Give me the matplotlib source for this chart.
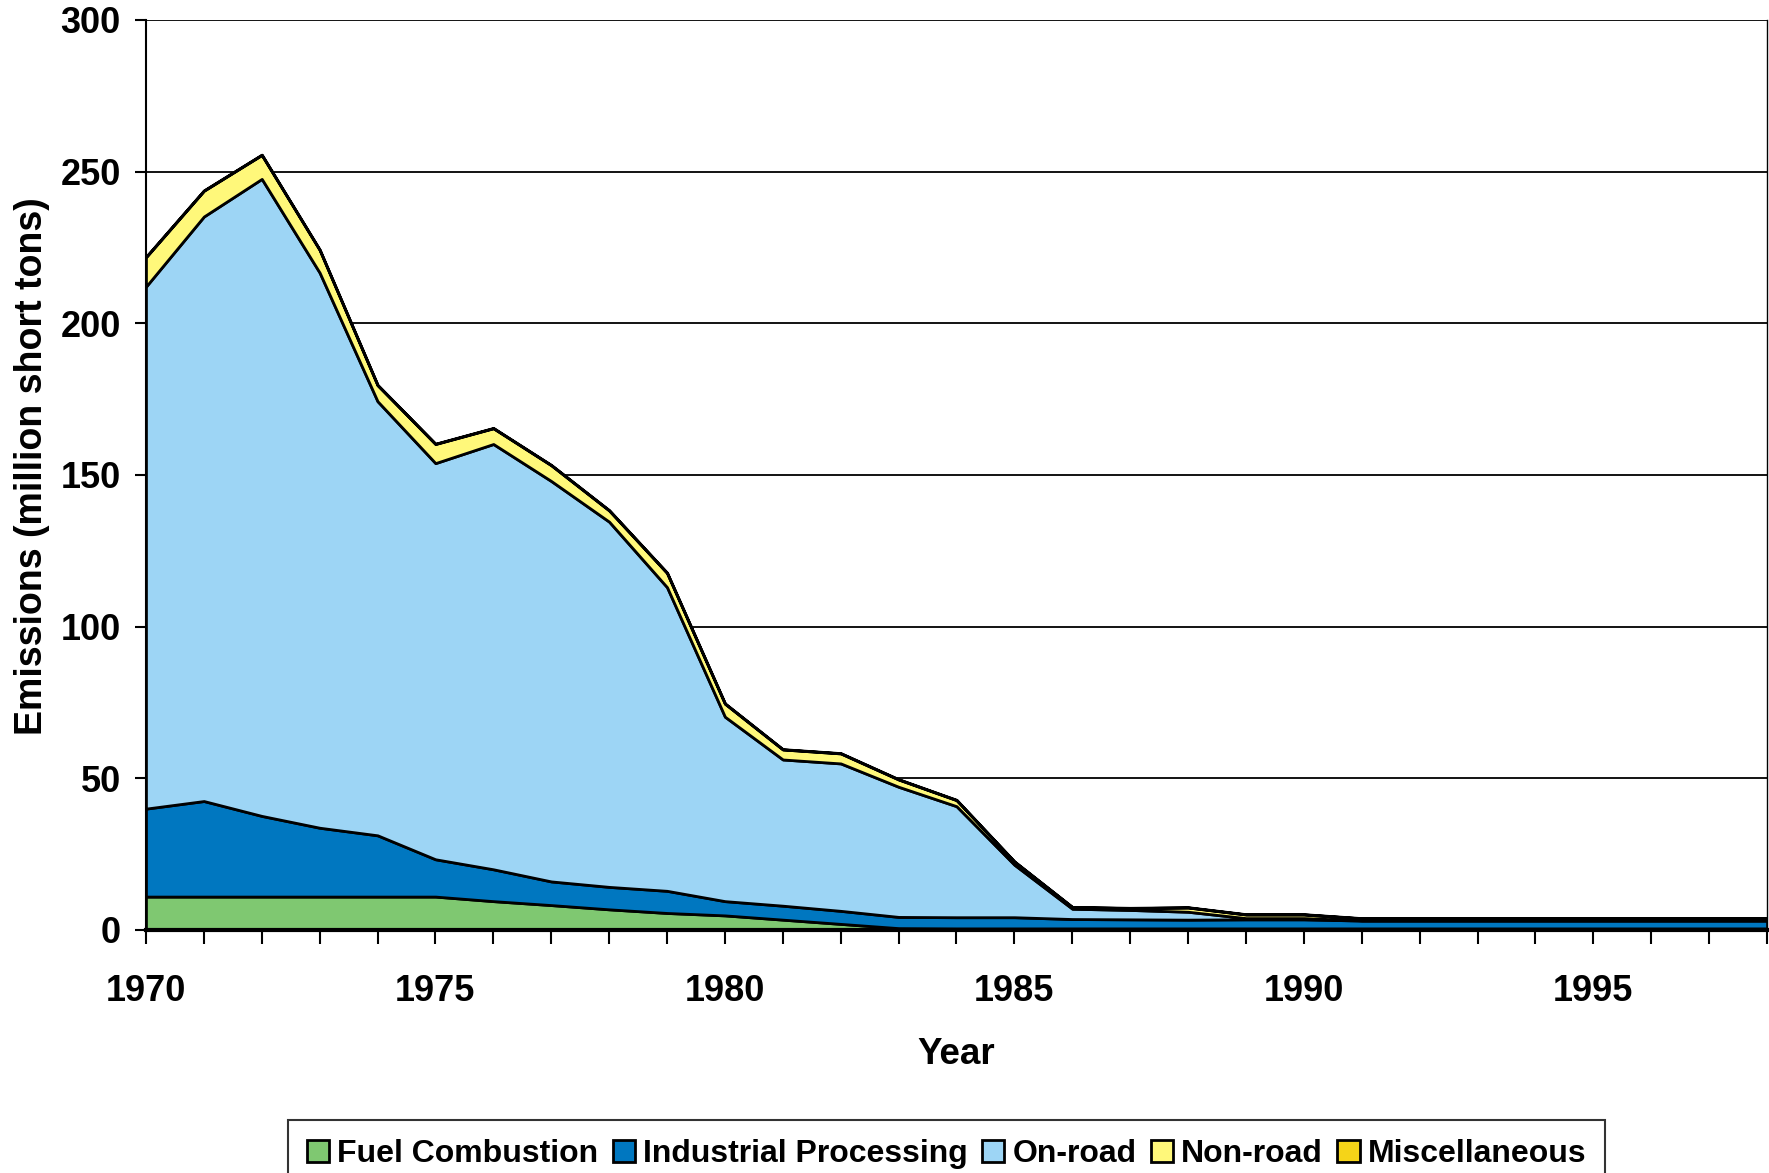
import numpy as np
import matplotlib.pyplot as plt
from matplotlib.ticker import MultipleLocator

plt.rcParams['font.family'] = ['Liberation Sans', 'DejaVu Sans']
plt.rcParams['font.weight'] = 'bold'

# emissions by source
years = list(range(1970, 1999))
fuel_combustion = [11, 11, 11, 11, 11, 11, 9.5, 8.2, 6.8, 5.6, 4.8, 3.4, 2.0, 0.6,
                   0.5, 0.5, 0.5, 0.5, 0.5, 0.5, 0.5, 0.5, 0.5, 0.5, 0.5, 0.5, 0.5, 0.5, 0.5]
industrial = [29, 31.5, 26.6, 22.7, 20.2, 12.3, 10.5, 7.8, 7.4, 7.3, 4.7, 4.6, 4.3, 3.7,
              3.7, 3.7, 3.1, 3.0, 2.9, 3.0, 3.0, 2.6, 2.6, 2.6, 2.6, 2.6, 2.6, 2.6, 2.6]
on_road = [172.1, 192.7, 210.0, 183.0, 143.1, 130.6, 140.2, 132.0, 120.4, 100.1, 60.8, 48.2,
           48.6, 42.9, 36.6, 17.3, 3.4, 3.1, 2.6, 0.4, 0.4, 0.1, 0.1, 0.1, 0.1, 0.1, 0.1, 0.1, 0.1]
non_road = [9.7, 8.5, 7.9, 7.5, 5.3, 6.3, 5.2, 5.2, 3.7, 4.7, 4.3, 3.3, 3.3, 2.4,
            2.0, 1.0, 0.5, 0.6, 1.4, 1.2, 1.2, 0.6, 0.6, 0.6, 0.6, 0.6, 0.6, 0.6, 0.6]
miscellaneous = [0.1] * 29

labels = ['Fuel Combustion', 'Industrial Processing', 'On-road', 'Non-road', 'Miscellaneous']
colors = ['#7fc871', '#0077c0', '#9dd5f5', '#fff87a', '#f5d418']

fig = plt.figure(figsize=(17.69, 11.73), dpi=100)
ax = fig.add_axes([0.0825, 0.2072, 0.9164, 0.7758])

polys = ax.stackplot(years, fuel_combustion, industrial, on_road, non_road, miscellaneous,
                     colors=colors, labels=labels, edgecolor='black', linewidth=2.0, zorder=3)

ax.set_xlim(1970, 1998)
ax.set_ylim(0, 300)
ax.yaxis.set_major_locator(MultipleLocator(50))
ax.xaxis.set_major_locator(MultipleLocator(5))
ax.xaxis.set_minor_locator(MultipleLocator(1))
ax.grid(axis='y', color='black', linewidth=1.3, zorder=1)

ax.spines['top'].set_visible(False)
ax.spines['right'].set_linewidth(1.0)
ax.spines['left'].set_linewidth(1.5)
ax.spines['bottom'].set_linewidth(3.0)
ax.spines['bottom'].set_zorder(5)

ax.tick_params(axis='y', direction='out', length=8, width=1.5, labelsize=26, pad=10)
ax.tick_params(axis='x', which='both', direction='out', length=10, width=1.5, labelsize=26, pad=22)

ax.set_xlabel('Year', fontsize=26.5, fontweight='bold', labelpad=20)
ax.set_ylabel('Emissions (million short tons)', fontsize=27, fontweight='bold')
ax.yaxis.set_label_coords(-0.059, 0.51)

leg = fig.legend(handles=polys, labels=labels, loc='upper center', bbox_to_anchor=(0.535, 0.0452),
                 ncol=5, fontsize=23, frameon=True, fancybox=False, edgecolor='black',
                 handlelength=0.7, handleheight=0.7, handletextpad=0.25, columnspacing=0.45,
                 borderpad=0.6, borderaxespad=0)
leg.get_frame().set_linewidth(1.5)

fig.savefig('out.png', dpi=100)
